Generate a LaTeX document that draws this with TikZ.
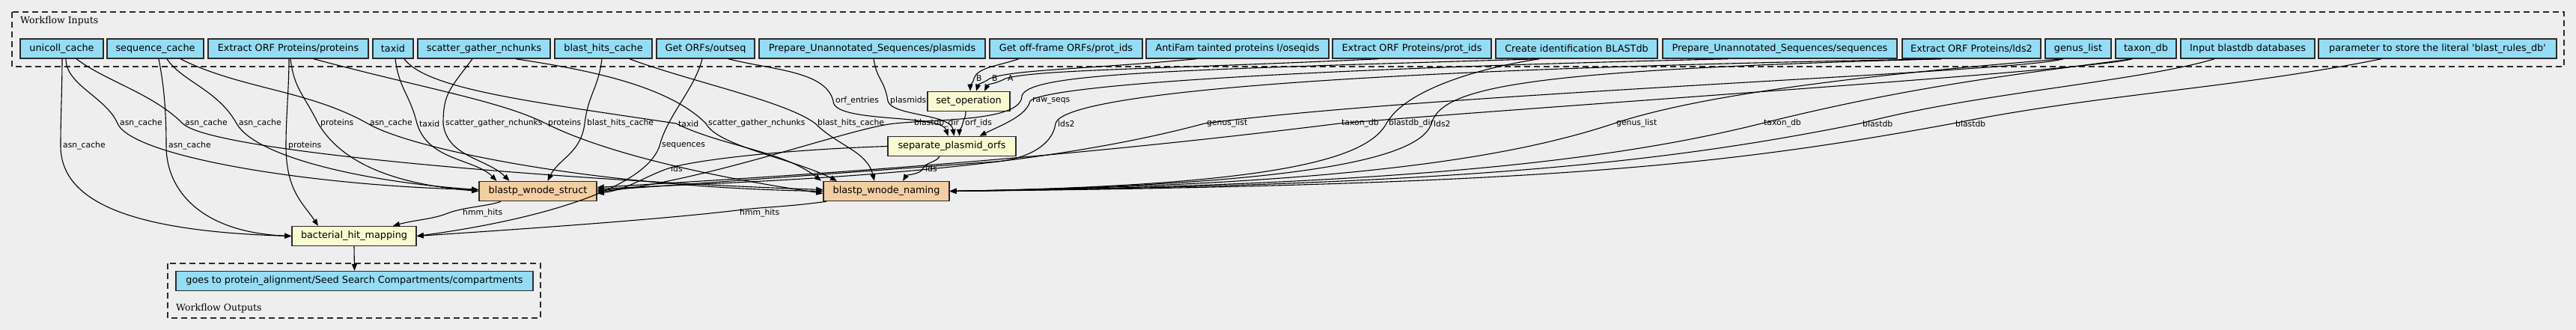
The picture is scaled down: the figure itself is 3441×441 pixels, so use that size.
\documentclass[tikz,border=0pt]{standalone}
\usepackage{fontspec}
\usetikzlibrary{arrows.meta}
\newfontfamily\dvs{DejaVu Sans}
\newfontfamily\dvserif{DejaVu Serif}
\definecolor{bgc}{HTML}{EEEEEE}
\definecolor{inblue}{HTML}{94DDF4}
\definecolor{stepy}{HTML}{FAFAD2}
\definecolor{subor}{HTML}{F3CEA1}
\definecolor{bord}{HTML}{2A2A2A}
\newcommand{\nfnt}{\dvs\fontsize{12.8pt}{15pt}\selectfont}
\newcommand{\efnt}{\dvs\fontsize{10.8pt}{13pt}\selectfont}
\newcommand{\cfnt}{\dvserif\fontsize{12.5pt}{15pt}\selectfont}
\tikzset{
  box/.style={draw=bord, line width=1.5pt, minimum height=26pt, inner sep=0pt, font=\nfnt},
  inp/.style={box, fill=inblue},
  stepn/.style={box, fill=stepy},
  subwf/.style={box, fill=subor},
  elab/.style={font=\efnt, inner sep=0pt, anchor=west},
  clab/.style={font=\cfnt, inner sep=0pt, anchor=west},
  cluster/.style={draw=bord, line width=1.2pt, dash pattern=on 8pt off 5pt},
  edge/.style={line width=1.1pt, -{Triangle[length=9pt,width=7pt]}}
}
\begin{document}
\begin{tikzpicture}[x=1pt,y=-1pt]
\fill[bgc] (0,0) rectangle (3441,441);
\useasboundingbox (0,0) rectangle (3441,441);
% clusters
\draw[cluster] (16,16) rectangle (3425,89);
\draw[cluster] (224,352) rectangle (722,425);
\node[clab] (cin) at (27,28) {Workflow Inputs};
\node[clab] (cout) at (235,412) {Workflow Outputs};
% inputs
\node[inp, minimum width=111pt] (unicoll) at (82.5,65) {unicoll\_cache};
\node[inp, minimum width=129pt] (seq) at (207.5,65) {sequence\_cache};
\node[inp, minimum width=214pt] (prot) at (385,65) {Extract ORF Proteins/proteins};
\node[inp, minimum width=54pt] (taxid) at (525,65) {taxid};
\node[inp, minimum width=177pt] (scatter) at (646.5,65) {scatter\_gather\_nchunks};
\node[inp, minimum width=130pt] (bhits) at (806,65) {blast\_hits\_cache};
\node[inp, minimum width=131pt] (outseq) at (942.5,65) {Get ORFs/outseq};
\node[inp, minimum width=302pt] (plas) at (1165,65) {Prepare\_Unannotated\_Sequences/plasmids};
\node[inp, minimum width=204pt] (offf) at (1424,65) {Get off-frame ORFs/prot\_ids};
\node[inp, minimum width=244pt] (antif) at (1653,65) {AntiFam tainted proteins I/oseqids};
\node[inp, minimum width=212pt] (eprot) at (1886,65) {Extract ORF Proteins/prot\_ids};
\node[inp, minimum width=216pt] (create) at (2106,65) {Create identification BLASTdb};
\node[inp, minimum width=313pt] (prepseq) at (2377.5,65) {Prepare\_Unannotated\_Sequences/sequences};
\node[inp, minimum width=185pt] (lds) at (2633.5,65) {Extract ORF Proteins/lds2};
\node[inp, minimum width=88pt] (genus) at (2776,65) {genus\_list};
\node[inp, minimum width=81pt] (taxdb) at (2866.5,65) {taxon\_db};
\node[inp, minimum width=179pt] (inblast) at (3002.5,65) {Input blastdb databases};
\node[inp, minimum width=318pt] (param) at (3256,65) {parameter to store the literal \textquotesingle blast\_rules\_db\textquotesingle};
% steps
\node[stepn, minimum width=110pt] (setop) at (1294,135.5) {set\_operation};
\node[stepn, minimum width=171pt] (sep) at (1271.5,195.5) {separate\_plasmid\_orfs};
\node[subwf, minimum width=157pt] (struct) at (718.5,255.5) {blastp\_wnode\_struct};
\node[subwf, minimum width=168pt] (naming) at (1184,255.5) {blastp\_wnode\_naming};
\node[stepn, minimum width=166pt] (bhm) at (473,315.5) {bacterial\_hit\_mapping};
\node[inp, minimum width=477pt] (out) at (473.5,375.5) {goes to protein\_alignment/Seed Search Compartments/compartments};
% edge labels
\node[elab] (l1) at (160,165) {asn\_cache};
\node[elab] (l2) at (247,165) {asn\_cache};
\node[elab] (l3) at (319,165) {asn\_cache};
\node[elab] (l4) at (428,165) {proteins};
\node[elab] (l5) at (494,165) {asn\_cache};
\node[elab] (l6) at (560,165) {taxid};
\node[elab] (l7) at (595,165) {scatter\_gather\_nchunks};
\node[elab] (l8) at (732,165) {proteins};
\node[elab] (l9) at (784,165) {blast\_hits\_cache};
\node[elab] (l10) at (906,165) {taxid};
\node[elab] (l11) at (946,165) {scatter\_gather\_nchunks};
\node[elab] (l12) at (1092,165) {blast\_hits\_cache};
\node[elab] (l13) at (1221,165) {blastdb\_dir};
\node[elab] (l14) at (1289,165) {orf\_ids};
\node[elab] (l15) at (1413,165) {lds2};
\node[elab] (l16) at (1612,165) {genus\_list};
\node[elab] (l17) at (1792,165) {taxon\_db};
\node[elab] (l18) at (1855,165) {blastdb\_dir};
\node[elab] (l19) at (1915,165) {lds2};
\node[elab] (l20) at (2159,165) {genus\_list};
\node[elab] (l21) at (2356,165) {taxon\_db};
\node[elab] (l22) at (2488,165) {blastdb};
\node[elab] (l23) at (2612,165) {blastdb};
\node[elab] (l24) at (84,195) {asn\_cache};
\node[elab] (l25) at (225,195) {asn\_cache};
\node[elab] (l26) at (385,195) {proteins};
\node[elab] (l27) at (884,195) {sequences};
\node[elab] (l28) at (1116,135) {orf\_entries};
\node[elab] (l29) at (1189,135) {plasmids};
\node[elab] (l30) at (1379,135) {raw\_seqs};
\node[elab] (l31) at (1304,105) {B};
\node[elab] (l32) at (1325,105) {B};
\node[elab] (l33) at (1346,105) {A};
\node[elab] (l34) at (896,225) {ids};
\node[elab] (l35) at (1236,225) {ids};
\node[elab] (l36) at (618,285) {hmm\_hits};
\node[elab] (l37) at (988,285) {hmm\_hits};
\coordinate (k22) at (1365,128);
\coordinate (k25) at (1330,216);
% edges to bacterial_hit_mapping
\draw[edge] ([xshift=0.5pt]unicoll.south) .. controls +(0,40) and +(0,-40) .. ([xshift=-3pt]l24.west) .. controls +(0,80) and +(-200,-6) .. (bhm.west);
\draw[edge] ([xshift=4.5pt]seq.south) .. controls +(8,40) and +(0,-40) .. ([xshift=-3pt]l25.west) .. controls +(0,60) and +(-120,-5) .. (bhm.west);
\draw[edge] ([xshift=1pt]prot.south) .. controls +(0,40) and +(0,-40) .. ([xshift=-3pt]l26.west) .. controls +(0,60) and +(-20,-30) .. ([xshift=-48pt]bhm.north);
\draw[edge] ([xshift=-4.5pt]outseq.south) .. controls +(-10,40) and +(10,-40) .. ([xshift=-3pt]l27.west) .. controls +(-20,60) and +(150,-20) .. (bhm.east);
\draw[edge] ([xshift=-49.5pt]struct.south) .. controls +(-15,6) and +(20,-8) .. ([xshift=-20pt]l36.west) .. controls +(-20,8) and +(30,-8) .. ([xshift=52pt]bhm.north);
\draw[edge] ([xshift=-80pt]naming.south) .. controls +(-60,8) and +(40,-5) .. ([xshift=-3pt,yshift=4pt]l37.west) .. controls +(-100,12) and +(150,-10) .. (bhm.east);
\draw[edge] (bhm.south) -- (out.north);
% edges to blastp_wnode_struct
\draw[edge] ([xshift=5.5pt]unicoll.south) .. controls +(0,35) and +(-15,-35) .. ([xshift=-3pt]l1.west) .. controls +(20,45) and +(-220,-5) .. ([yshift=2pt]struct.west);
\draw[edge] ([xshift=15.5pt]seq.south) .. controls +(20,30) and +(-25,-45) .. ([xshift=-3pt]l3.west) .. controls +(25,45) and +(-150,-10) .. ([yshift=2pt]struct.west);
\draw[edge] ([xshift=3pt]prot.south) .. controls +(5,40) and +(-20,-40) .. ([xshift=-3pt]l4.west) .. controls +(30,50) and +(-120,-10) .. (struct.west);
\draw[edge] ([xshift=3pt]taxid.south) .. controls +(5,40) and +(-10,-40) .. ([xshift=-3pt]l6.west) .. controls +(15,50) and +(-30,-30) .. ([xshift=-55pt]struct.north);
\draw[edge] ([xshift=-15.5pt]scatter.south) .. controls +(-30,40) and +(0,-40) .. ([xshift=-3pt]l7.west) .. controls +(5,45) and +(-30,-30) .. ([xshift=-38pt]struct.north);
\draw[edge] ([xshift=-2pt]bhits.south) .. controls +(-5,40) and +(5,-40) .. ([xshift=-3pt]l9.west) .. controls +(-5,40) and +(15,-30) .. ([xshift=13pt]struct.north);
\draw[edge] (sep.west) .. controls +(-150,5) and +(30,-10) .. ([xshift=-3pt]l34.west) .. controls +(-30,10) and +(40,-5) .. ([yshift=-3pt]struct.east);
\draw[edge] ([xshift=-50pt]create.south) .. controls +(-500,15) and +(10,-30) .. (k22) .. controls +(0,34) and +(60,-6) .. ([xshift=-26pt]l13.west) .. controls +(-60,6) and +(150,-15) .. ([yshift=-1pt]struct.east);
\draw[edge] ([xshift=-40.5pt]lds.south) .. controls +(-800,14) and +(10,-40) .. ([xshift=-3pt]l15.west) .. controls +(-5,35) and +(30,-2) .. (k25) .. controls +(-30,2) and +(150,-10) .. ([yshift=1pt]struct.east);
\draw[edge] ([xshift=-20pt]genus.south) .. controls +(-60,18) and +(300,-40) .. ([xshift=-3pt]l16.west) .. controls +(-260,70) and +(200,-10) .. ([yshift=3pt]struct.east);
\draw[edge] ([xshift=-18.5pt]taxdb.south) .. controls +(-50,15) and +(300,-25) .. ([xshift=-3pt]l17.west) .. controls +(-400,50) and +(250,-15) .. ([yshift=5pt]struct.east);
% edges to blastp_wnode_naming
\draw[edge] ([xshift=19.5pt]unicoll.south) .. controls +(40,30) and +(-40,-40) .. ([xshift=-3pt]l2.west) .. controls +(40,40) and +(-300,-10) .. ([yshift=2pt]naming.west);
\draw[edge] ([xshift=33.5pt]seq.south) .. controls +(80,40) and +(-80,-45) .. ([xshift=-3pt]l5.west) .. controls +(60,35) and +(-300,-5) .. (naming.west);
\draw[edge] ([xshift=34pt]prot.south) .. controls +(150,40) and +(-60,-30) .. ([xshift=-3pt]l8.west) .. controls +(60,30) and +(-200,-30) .. ([yshift=-3pt]naming.west);
\draw[edge] ([xshift=15pt]taxid.south) .. controls +(30,40) and +(-200,-30) .. ([xshift=-3pt]l10.west) .. controls +(60,30) and +(-50,-40) .. ([xshift=-87pt]naming.north);
\draw[edge] ([xshift=42.5pt]scatter.south) .. controls +(100,15) and +(-50,-50) .. ([xshift=-3pt]l11.west) .. controls +(15,30) and +(-60,-30) .. ([xshift=-66pt]naming.north);
\draw[edge] ([xshift=35pt]bhits.south) .. controls +(80,30) and +(-40,-30) .. ([xshift=-3pt]l12.west) .. controls +(30,30) and +(-10,-40) .. ([xshift=-16pt]naming.north);
\draw[edge] ([xshift=-16.5pt]sep.south) .. controls +(-5,8) and +(3,-8) .. ([xshift=-3pt]l35.west) .. controls +(-3,8) and +(5,-8) .. ([xshift=22pt]naming.north);
\draw[edge] ([xshift=-50pt]create.south) .. controls +(-80,12) and +(25,-45) .. ([xshift=-3pt]l18.west) .. controls +(-25,45) and +(450,-8) .. (naming.east);
\draw[edge] ([xshift=-40.5pt]lds.south) .. controls +(-550,15) and +(15,-50) .. ([xshift=-3pt]l19.west) .. controls +(-15,50) and +(450,-8) .. (naming.east);
\draw[edge] ([xshift=-20pt]genus.south) .. controls +(-250,20) and +(120,-40) .. ([xshift=-3pt]l20.west) .. controls +(-150,50) and +(500,-8) .. (naming.east);
\draw[edge] ([xshift=-18.5pt]taxdb.south) .. controls +(-150,20) and +(200,-50) .. ([xshift=-3pt]l21.west) .. controls +(-200,50) and +(600,-8) .. (naming.east);
\draw[edge] ([xshift=-44.5pt]inblast.south) .. controls +(-100,30) and +(150,-40) .. ([xshift=-3pt]l22.west) .. controls +(-250,50) and +(700,-8) .. (naming.east);
\draw[edge] ([xshift=-75pt]param.south) .. controls +(-200,40) and +(200,-40) .. ([xshift=-3pt]l23.west) .. controls +(-300,55) and +(800,-8) .. (naming.east);
% edges to separate_plasmid_orfs
\draw[edge] ([xshift=30.5pt]outseq.south) .. controls +(60,15) and +(-10,-40) .. ([xshift=-3pt]l28.west) .. controls +(0,30) and +(-10,-30) .. ([xshift=-5pt]sep.north);
\draw[edge] ([xshift=2pt]plas.south) .. controls +(5,30) and +(-5,-30) .. ([xshift=-3pt]l29.west) .. controls +(5,20) and +(-5,-30) .. ([xshift=3pt]sep.north);
\draw[edge] ([xshift=-4pt]setop.south) .. controls +(0,8) and +(2,-8) .. ([xshift=-3pt]l14.west) .. controls +(-2,8) and +(0,-8) .. ([xshift=10pt]sep.north);
\draw[edge] ([xshift=-69.5pt]prepseq.south) .. controls +(-600,14) and +(20,-20) .. ([xshift=-3pt]l30.west) .. controls +(-5,20) and +(30,-15) .. ([xshift=37pt]sep.north);
% edges to set_operation
\draw[edge] ([xshift=-63pt]offf.south) .. controls +(-30,10) and +(5,-15) .. ([xshift=-3pt]l31.west) .. controls +(-3,10) and +(0,-10) .. ([xshift=2pt]setop.north);
\draw[edge] ([xshift=-55pt]antif.south) .. controls +(-150,14) and +(30,-12) .. ([xshift=-3pt]l32.west) .. controls +(-8,6) and +(3,-10) .. ([xshift=10pt]setop.north);
\draw[edge] ([xshift=-45pt]eprot.south) .. controls +(-300,14) and +(40,-12) .. ([xshift=-3pt]l33.west) .. controls +(-15,8) and +(5,-10) .. ([xshift=21pt]setop.north);
\end{tikzpicture}
\end{document}
